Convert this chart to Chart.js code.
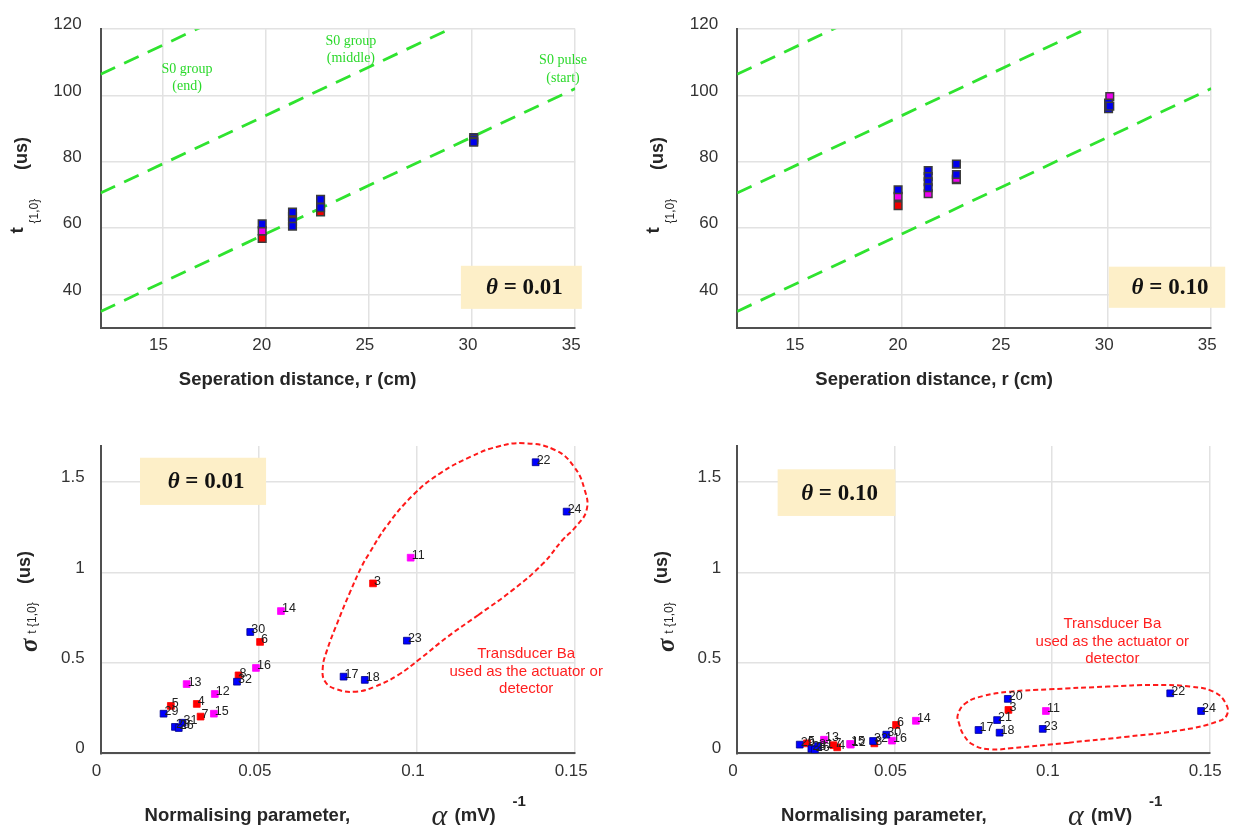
<!DOCTYPE html>
<html>
<head>
<meta charset="utf-8">
<script src="https://cdn.jsdelivr.net/npm/chart.js@4.4.1/dist/chart.umd.min.js"></script>
<style>
  html, body { margin: 0; padding: 0; background: #fff; }
  #fig { position: relative; width: 1234px; height: 831px; }
  #fig canvas { position: absolute; left: 0; top: 0; }
</style>
</head>
<body>
<div id="fig">
  <canvas id="tl" width="1234" height="831"></canvas>
  <canvas id="tr" width="1234" height="831"></canvas>
  <canvas id="bl" width="1234" height="831"></canvas>
  <canvas id="br" width="1234" height="831"></canvas>
</div>
<script>
// ticks
const distTicks = [15, 20, 25, 30, 35];
const distLabels = ['15', '20', '25', '30', '35'];
const timeTicks = [40, 60, 80, 100, 120];
const timeLabels = ['40', '60', '80', '100', '120'];
const alphaTicks = [0, 0.05, 0.1, 0.15];
const alphaLabels = ['0', '0.05', '0.1', '0.15'];
const sigmaTicks = [0, 0.5, 1, 1.5];
const sigmaLabels = ['0', '0.5', '1', '1.5'];

// arrival time t{1,0} (us) vs separation r (cm); set 1/2/3 = transducer group
const r01 = [19.83, 19.83, 19.83, 21.30, 21.30, 21.30, 21.30, 22.66, 22.66, 22.66, 30.08, 30.08, 30.08, 30.08];
const t01 = [61.3, 59.2, 56.9, 64.9, 63.5, 62.1, 60.6, 68.7, 66.2, 64.9, 87.3, 86.8, 86.2, 85.9];
const set01 = [1, 3, 2, 1, 2, 1, 1, 1, 1, 2, 1, 1, 1, 1];

const r10 = [19.81, 19.81, 19.81, 21.27, 21.27, 21.27, 21.27, 21.27, 22.64, 22.64, 22.64, 22.64, 30.02, 30.02, 30.08, 30.08];
const t10 = [71.6, 69.6, 66.8, 77.4, 75.6, 74.0, 72.2, 70.4, 79.3, 76.2, 74.9, 74.6, 97.7, 96.0, 99.7, 96.8];
const set10 = [1, 3, 2, 1, 1, 1, 1, 3, 1, 1, 3, 2, 1, 1, 3, 1];

// S0 reference lines, [r, t] end points
const s0Start = [[12, 34.9], [35, 102.1]];
const s0Middle = [[12, 70.6], [35, 137.8]];
const s0End = [[12, 106.4], [35, 173.6]];

// spread sigma t{1,0} (us) vs normalising parameter alpha
const id01 = [22, 24, 11, 3, 23, 17, 18, 14, 30, 6, 16, 8, 32, 13, 12, 5, 4, 7, 15, 29, 31, 28, 26];
const alpha01 = [0.1375, 0.1473, 0.0980, 0.0861, 0.0968, 0.0768, 0.0835, 0.0570, 0.0473, 0.0504, 0.0491, 0.0436, 0.0431, 0.0272, 0.0361, 0.0222, 0.0304, 0.0316, 0.0358, 0.0199, 0.0259, 0.0235, 0.0247];
const sigma01 = [1.610, 1.337, 1.082, 0.940, 0.623, 0.424, 0.406, 0.787, 0.671, 0.616, 0.472, 0.431, 0.396, 0.383, 0.328, 0.262, 0.273, 0.203, 0.219, 0.219, 0.169, 0.146, 0.140];
const grp01 = [1, 1, 3, 2, 1, 1, 1, 3, 1, 2, 3, 2, 1, 3, 3, 2, 2, 2, 3, 1, 1, 1, 1];

const id10 = [22, 24, 11, 23, 20, 3, 21, 17, 18, 14, 6, 30, 16, 32, 8, 15, 12, 7, 4, 13, 31, 5, 29, 28, 26];
const alpha10 = [0.1376, 0.1474, 0.0981, 0.0971, 0.0860, 0.0862, 0.0826, 0.0767, 0.0834, 0.0568, 0.0505, 0.0474, 0.0492, 0.0432, 0.0436, 0.0359, 0.0361, 0.0306, 0.0318, 0.0276, 0.0257, 0.0222, 0.0199, 0.0236, 0.0247];
const sigma10 = [0.332, 0.234, 0.234, 0.135, 0.301, 0.240, 0.184, 0.129, 0.114, 0.180, 0.157, 0.103, 0.070, 0.068, 0.055, 0.052, 0.048, 0.045, 0.033, 0.075, 0.040, 0.055, 0.048, 0.025, 0.020];
const grp10 = [1, 1, 3, 1, 1, 2, 1, 1, 1, 3, 2, 1, 3, 1, 2, 3, 3, 2, 2, 3, 1, 2, 1, 1, 1];

// outline round the transducer Ba points
const baAlpha01 = [0.1194, 0.1097, 0.1012, 0.0940, 0.0867, 0.0807, 0.0746, 0.0710, 0.0702, 0.0716, 0.0752, 0.0789, 0.0825, 0.0849, 0.0903, 0.0988, 0.1073, 0.1170, 0.1254, 0.1339, 0.1436, 0.1496, 0.1530, 0.1536, 0.1502, 0.1460, 0.1399, 0.1303, 0.1194];
const baSigma01 = [0.765, 0.645, 0.526, 0.433, 0.369, 0.341, 0.354, 0.396, 0.470, 0.572, 0.738, 0.894, 1.033, 1.106, 1.254, 1.429, 1.549, 1.641, 1.696, 1.715, 1.678, 1.586, 1.457, 1.346, 1.254, 1.180, 1.051, 0.904, 0.765];
const baAlpha10 = [0.1054, 0.0868, 0.0807, 0.0751, 0.0720, 0.0705, 0.0701, 0.0726, 0.0782, 0.0868, 0.0992, 0.1178, 0.1327, 0.1438, 0.1513, 0.1552, 0.1556, 0.1525, 0.1414, 0.1240, 0.1054];
const baSigma10 = [0.059, 0.028, 0.022, 0.046, 0.101, 0.166, 0.212, 0.277, 0.317, 0.341, 0.354, 0.369, 0.378, 0.369, 0.341, 0.277, 0.212, 0.175, 0.129, 0.092, 0.059];

const sans = "'Liberation Sans', Arial, sans-serif";
const serif = "'Liberation Serif', 'Times New Roman', serif";
const topFill = { 1: '#0000ee', 2: '#ee0000', 3: '#ee00ee' };
const lowFill = { 1: '#0000ff', 2: '#ff0000', 3: '#ff00ff' };

Chart.defaults.font.family = sans;

function axis(min, max, vals, labels, extra) {
  return Object.assign({
    type: 'linear', min, max,
    grid: { color: '#e2e2e2', lineWidth: 1.5, drawTicks: false },
    border: { color: '#505050', width: 2 },
    afterBuildTicks: a => { a.ticks = vals.map(v => ({ value: v })); },
    ticks: { font: { size: 17 }, color: '#333', autoSkip: false, maxRotation: 0,
             callback: (v, i) => labels[i] }
  }, extra);
}

// page box of each plot area -> padding with fixed axis sizes
function panelLayout(box) {
  return { padding: { left: box.left - 60, top: box.top, right: 1234 - box.right, bottom: 831 - box.bottom - 40 } };
}

function vtext(ctx, text, font, baseX, y, align) {
  ctx.save();
  ctx.translate(baseX, y);
  ctx.rotate(-Math.PI / 2);
  ctx.font = font;
  ctx.textAlign = align;
  ctx.textBaseline = 'alphabetic';
  ctx.fillText(text, 0, 0);
  ctx.restore();
}

function thetaBox(chart, ctx, bx, by, value) {
  const xs = chart.scales.x, ys = chart.scales.y;
  const l = xs.getPixelForValue(bx[0]), r = xs.getPixelForValue(bx[1]);
  const t = ys.getPixelForValue(by[1]), b = ys.getPixelForValue(by[0]);
  ctx.fillStyle = '#fdefc8';
  ctx.fillRect(l, t, r - l, b - t);
  ctx.fillStyle = '#111';
  ctx.textBaseline = 'middle';
  ctx.textAlign = 'left';
  ctx.font = `italic bold 23px ${serif}`;
  const w1 = ctx.measureText('θ').width;
  ctx.font = `bold 23px ${serif}`;
  const rest = ' = ' + value;
  const w2 = ctx.measureText(rest).width;
  const x = (l + r) / 2 + 3 - (w1 + w2) / 2, y = (t + b) / 2 + 1;
  ctx.font = `italic bold 23px ${serif}`;
  ctx.fillText('θ', x, y);
  ctx.font = `bold 23px ${serif}`;
  ctx.fillText(rest, x + w1, y);
}

function centredLines(chart, ctx, lines, at, step, font, colour) {
  const x = chart.scales.x.getPixelForValue(at[0]);
  const y = chart.scales.y.getPixelForValue(at[1]);
  ctx.font = font;
  ctx.fillStyle = colour;
  ctx.textAlign = 'center';
  ctx.textBaseline = 'middle';
  lines.forEach((s, i) => ctx.fillText(s, x, y + i * step));
}

function drawTop(chart, ctx, opts) {
  const { left: L, top: T, bottom: B } = chart.chartArea;
  const mid = (T + B) / 2;
  ctx.fillStyle = '#262626';
  ctx.font = `bold 18.5px ${sans}`;
  ctx.textAlign = 'center';
  ctx.textBaseline = 'middle';
  ctx.fillText('Seperation distance, r (cm)', L + 197, B + 52.3);
  vtext(ctx, 't', `bold 19px ${sans}`, L - 78, mid + 55, 'left');
  vtext(ctx, '{1,0}', `12px ${sans}`, L - 63, mid + 45, 'left');
  vtext(ctx, '(us)', `bold 18px ${sans}`, L - 74, mid - 25, 'center');
  thetaBox(chart, ctx, opts.boxX, opts.boxY, opts.theta);
  if (opts.s0) {
    const green = '#2bd92b', f = `14px ${serif}`;
    centredLines(chart, ctx, ['S0 group', '(end)'], [16.19, 107.98], 17, f, green);
    centredLines(chart, ctx, ['S0 group', '(middle)'], [24.13, 116.2], 17, f, green);
    centredLines(chart, ctx, ['S0 pulse', '(start)'], [34.41, 110.7], 18, f, green);
  }
}

function drawBottom(chart, ctx, opts) {
  const { left: L, top: T, bottom: B } = chart.chartArea;
  const mid = (T + B) / 2;
  ctx.fillStyle = '#262626';
  ctx.textAlign = 'left';
  ctx.textBaseline = 'alphabetic';
  ctx.font = `bold 18.5px ${sans}`;
  ctx.fillText('Normalising parameter,', L + 44, B + 67.2);
  ctx.fillText('(mV)', L + 354, B + 67.2);
  ctx.font = `italic 30px ${serif}`;
  ctx.fillText('α', L + 331, B + 72);
  ctx.font = `bold 15px ${sans}`;
  ctx.fillText('-1', L + 412, B + 52.2);
  vtext(ctx, 'σ', `italic bold 25px ${serif}`, L - 63.6, mid + 52.3, 'left');
  vtext(ctx, 't {1,0}', `12px ${sans}`, L - 64.6, mid + 34, 'left');
  vtext(ctx, '(us)', `bold 18px ${sans}`, L - 70.6, mid - 32.2, 'center');
  thetaBox(chart, ctx, opts.boxX, opts.boxY, opts.theta);
  centredLines(chart, ctx, ['Transducer Ba', 'used as the actuator or', 'detector'],
    opts.noteAt, 17.5, `15px ${sans}`, '#ff1f1f');

  // point numbers
  ctx.font = `12.5px ${sans}`;
  ctx.fillStyle = '#222';
  ctx.textAlign = 'left';
  ctx.textBaseline = 'middle';
  chart.data.datasets.forEach((ds, di) => {
    if (!ds.ids) return;
    chart.getDatasetMeta(di).data.forEach((el, j) => ctx.fillText(String(ds.ids[j]), el.x + 1, el.y - 2));
  });
}

function topDatasets(rs, ts, sets) {
  const ds = [1, 3, 2].map(s => ({
    data: rs.map((r, i) => ({ x: r, y: ts[i] })).filter((_, i) => sets[i] === s),
    pointStyle: 'rect', pointRadius: 5.4, backgroundColor: topFill[s],
    borderColor: '#3c3c3c', borderWidth: 1.5
  }));
  [s0Start, s0Middle, s0End].forEach(line => ds.push({
    data: line.map(([x, y]) => ({ x, y })), showLine: true, pointRadius: 0,
    borderColor: '#2fe32f', borderWidth: 2.8, borderDash: [16, 10], tension: 0
  }));
  return ds;
}

function bottomDatasets(ids, as, ss, grps, outA, outS) {
  const ds = [1, 3, 2].map(s => {
    const idx = ids.map((_, i) => i).filter(i => grps[i] === s);
    return {
      data: idx.map(i => ({ x: as[i], y: ss[i] })), ids: idx.map(i => ids[i]),
      pointStyle: 'rect', pointRadius: 4.8, backgroundColor: lowFill[s],
      borderColor: s === 1 ? '#00008a' : lowFill[s], borderWidth: 0.8
    };
  });
  ds.push({
    data: outA.map((x, i) => ({ x, y: outS[i] })), showLine: true, pointRadius: 0,
    borderColor: '#ff1a1a', borderWidth: 2, borderDash: [5, 3],
    tension: 0.45, cubicInterpolationMode: 'default', capBezierPoints: false, clip: false
  });
  return ds;
}

function makeChart(id, box, datasets, scales, draw) {
  new Chart(document.getElementById(id), {
    type: 'scatter',
    data: { datasets },
    options: {
      responsive: false, animation: false, events: [],
      layout: panelLayout(box),
      plugins: { legend: { display: false }, tooltip: { enabled: false } },
      scales
    },
    plugins: [{ id: 'decor', afterDatasetsDraw(chart) { const ctx = chart.ctx; ctx.save(); draw(chart, ctx); ctx.restore(); } }]
  });
}

function topScales() {
  return {
    x: axis(12, 35, distTicks, distLabels, { afterFit: a => { a.height = 40; } }),
    y: axis(30, 120, timeTicks, timeLabels, { afterFit: a => { a.width = 60; } })
  };
}
function bottomScales() {
  return {
    x: axis(0, 0.15, alphaTicks, alphaLabels, { afterFit: a => { a.height = 40; } }),
    y: axis(0, 1.7, sigmaTicks, sigmaLabels, { afterFit: a => { a.width = 60; } })
  };
}
function tickPads(scales, xPad, yPad) {
  scales.x.ticks.padding = xPad; scales.x.ticks.labelOffset = -4;
  scales.y.ticks.padding = yPad; scales.y.ticks.labelOffset = -4.5;
  return scales;
}

makeChart('tl', { left: 100.6, top: 20.7, right: 575.2, bottom: 327.7 },
  topDatasets(r01, t01, set01), tickPads(topScales(), 7.5, 19),
  (c, ctx) => drawTop(c, ctx, { theta: '0.01', boxX: [29.46, 35.32], boxY: [35.68, 48.67], s0: true }));

makeChart('tr', { left: 737.1, top: 20.7, right: 1211.2, bottom: 327.7 },
  topDatasets(r10, t10, set10), tickPads(topScales(), 7.5, 19),
  (c, ctx) => drawTop(c, ctx, { theta: '0.10', boxX: [30.03, 35.68], boxY: [36.0, 48.4], s0: false }));

makeChart('bl', { left: 100.6, top: 446, right: 575.2, bottom: 753.3 },
  bottomDatasets(id01, alpha01, sigma01, grp01, baAlpha01, baSigma01), tickPads(bottomScales(), 8.2, 16),
  (c, ctx) => drawBottom(c, ctx, { theta: '0.01', boxX: [0.01245, 0.0523], boxY: [1.374, 1.635], noteAt: [0.1345, 0.548] }));

makeChart('br', { left: 737.1, top: 446, right: 1211.2, bottom: 753.3 },
  bottomDatasets(id10, alpha10, sigma10, grp10, baAlpha10, baSigma10), tickPads(bottomScales(), 8.2, 16),
  (c, ctx) => drawBottom(c, ctx, { theta: '0.10', boxX: [0.01288, 0.0503], boxY: [1.313, 1.571], noteAt: [0.1192, 0.715] }));
</script>
</body>
</html>
